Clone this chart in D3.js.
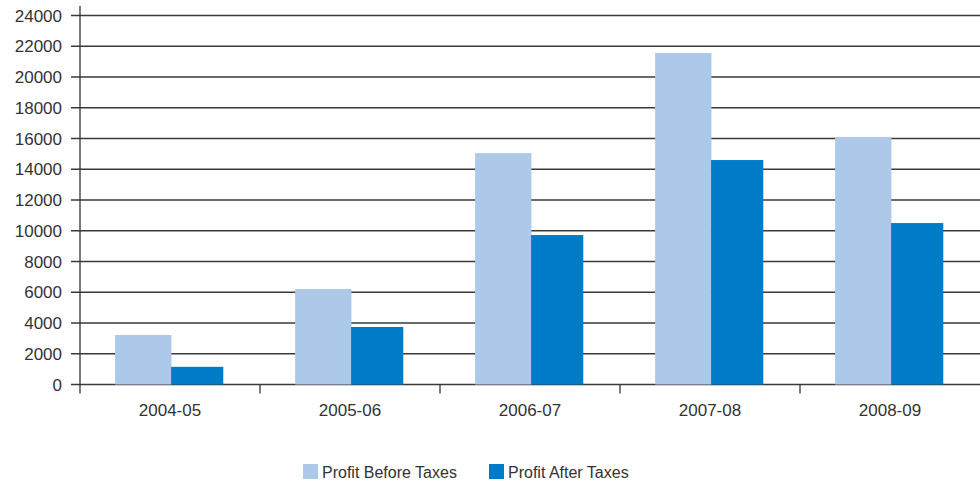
<!DOCTYPE html>
<html>
<head>
<meta charset="utf-8">
<script src="https://cdn.jsdelivr.net/npm/d3@7"></script>
<style>
  body { margin: 0; background: #fff; }
  svg { display: block; font-family: "Liberation Sans", Arial, sans-serif; }
</style>
</head>
<body>
<svg id="chart" width="980" height="485"></svg>
<script>
const years = ['2004-05', '2005-06', '2006-07', '2007-08', '2008-09'];
const beforeTaxes = [3220, 6210, 15050, 21560, 16100];
const afterTaxes = [1150, 3740, 9720, 14600, 10500];
const yTicks = [0, 2000, 4000, 6000, 8000, 10000, 12000, 14000, 16000, 18000, 20000, 22000, 24000];
const seriesNames = ['Profit Before Taxes', 'Profit After Taxes'];
const colors = ['#adc9e9', '#007bc7'];

const svg = d3.select('#chart');
const plotLeft = 80, plotRight = 980, plotTop = 15.5, plotBottom = 384.5;

const x = d3.scaleBand().domain(years).range([plotLeft, plotRight]);
const y = d3.scaleLinear().domain([0, 24000]).range([plotBottom, plotTop]);

// gridlines
svg.append('g')
  .selectAll('line')
  .data(yTicks)
  .enter().append('line')
  .attr('x1', plotLeft - 9)
  .attr('x2', plotRight)
  .attr('y1', d => y(d))
  .attr('y2', d => y(d))
  .attr('stroke', '#3a3a3a')
  .attr('stroke-width', 1.3);

// y labels
svg.append('g')
  .selectAll('text')
  .data(yTicks)
  .enter().append('text')
  .attr('x', 62)
  .attr('y', d => y(d))
  .attr('dy', '0.36em')
  .attr('text-anchor', 'end')
  .attr('fill', '#333')
  .style('font-size', '17px')
  .text(d => d);

// y axis line
svg.append('line')
  .attr('x1', plotLeft).attr('x2', plotLeft)
  .attr('y1', 6).attr('y2', plotBottom + 9)
  .attr('stroke', '#333').attr('stroke-width', 1.3);

// x ticks at band boundaries
svg.append('g')
  .selectAll('line')
  .data(years.slice(1))
  .enter().append('line')
  .attr('x1', d => x(d)).attr('x2', d => x(d))
  .attr('y1', plotBottom).attr('y2', plotBottom + 9)
  .attr('stroke', '#333').attr('stroke-width', 1.3);

// bars
const bw = x.bandwidth();
const groups = svg.append('g')
  .selectAll('g')
  .data(years)
  .enter().append('g')
  .attr('transform', d => `translate(${x(d)},0)`);

groups.append('rect')
  .attr('x', bw * 0.195)
  .attr('width', bw * 0.313)
  .attr('y', (d, i) => y(beforeTaxes[i]))
  .attr('height', (d, i) => y(0) - y(beforeTaxes[i]))
  .attr('fill', colors[0]);

groups.append('rect')
  .attr('x', bw * 0.506)
  .attr('width', bw * 0.29)
  .attr('y', (d, i) => y(afterTaxes[i]))
  .attr('height', (d, i) => y(0) - y(afterTaxes[i]))
  .attr('fill', colors[1]);

// x labels
groups.append('text')
  .attr('x', bw / 2)
  .attr('y', 416)
  .attr('text-anchor', 'middle')
  .attr('fill', '#333')
  .style('font-size', '17px')
  .text(d => d);

// legend
const legendX = [303, 489];
const legend = svg.append('g')
  .selectAll('g')
  .data(seriesNames)
  .enter().append('g')
  .attr('transform', (d, i) => `translate(${legendX[i]},464)`);

legend.append('rect')
  .attr('width', 15).attr('height', 15)
  .attr('fill', (d, i) => colors[i]);

legend.append('text')
  .attr('x', 19)
  .attr('y', 14)
  .attr('fill', '#333')
  .style('font-size', '16px')
  .text(d => d);
</script>
</body>
</html>
